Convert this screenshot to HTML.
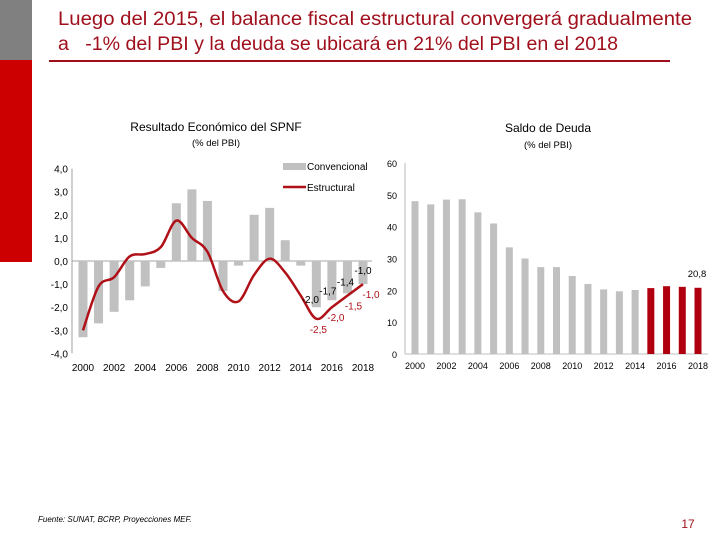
<!DOCTYPE html>
<html><head><meta charset="utf-8"><style>
body{margin:0;width:720px;height:540px;background:#fff;position:relative;overflow:hidden;font-family:"Liberation Sans",sans-serif}
.abs{position:absolute}
svg text{font-family:"Liberation Sans",sans-serif}
</style></head><body>
<div class="abs" style="left:0;top:0;width:32px;height:60px;background:#808080"></div>
<div class="abs" style="left:0;top:60px;width:32px;height:202px;background:#cc0000"></div>
<div class="abs" style="left:49px;top:60px;width:621px;height:2px;background:#a0101c"></div>
<svg class="abs" style="left:0;top:0" width="720" height="540" id="svg">
<g fill="#a0101c" font-size="19">
<text x="58" y="25" textLength="634" lengthAdjust="spacingAndGlyphs">Luego del 2015, el balance fiscal estructural convergerá gradualmente</text>
<text x="58" y="50" textLength="560" lengthAdjust="spacingAndGlyphs">a&#160;&#160; -1% del PBI y la deuda se ubicará en 21% del PBI en el 2018</text>
</g>
<text x="216" y="131" text-anchor="middle" font-size="12">Resultado Económico del SPNF</text>
<text x="216" y="146" text-anchor="middle" font-size="9.5">(% del PBI)</text>
<text x="548" y="132" text-anchor="middle" font-size="12">Saldo de Deuda</text>
<text x="548" y="148" text-anchor="middle" font-size="9.5">(% del PBI)</text>
<text x="38" y="522" font-size="8" font-style="italic">Fuente: SUNAT, BCRP, Proyecciones MEF.</text>
<text x="688" y="528" text-anchor="middle" font-size="12" fill="#a0101c">17</text>
<g id="left"></g><g id="right"></g>
</svg>
<script>
const years=[2000,2001,2002,2003,2004,2005,2006,2007,2008,2009,2010,2011,2012,2013,2014,2015,2016,2017,2018];
const conventional=[-3.3,-2.7,-2.2,-1.7,-1.1,-0.3,2.5,3.1,2.6,-1.3,-0.2,2.0,2.3,0.9,-0.2,-2.0,-1.7,-1.4,-1.0];
const structural=[-3.0,-1.1,-0.7,0.2,0.3,0.6,1.75,1.0,0.4,-1.3,-1.75,-0.6,0.1,-0.5,-1.5,-2.5,-2.0,-1.5,-1.0];
const leftTicks=[4,3,2,1,0,-1,-2,-3,-4];
const convLabels=["-2,0","-1,7","-1,4","-1,0"];
const strLabels=["-2,5","-2,0","-1,5","-1,0"];
const debt=[48,47,48.5,48.6,44.5,41,33.5,30,27.3,27.3,24.5,22,20.3,19.7,20.1,20.7,21.3,21.1,20.8];
const rightTicks=[0,10,20,30,40,50,60];
const yearLabels=[2000,2002,2004,2006,2008,2010,2012,2014,2016,2018];
const NS="http://www.w3.org/2000/svg";
function mk(p,t,a){const e=document.createElementNS(NS,t);for(const k in a)e.setAttribute(k,a[k]);p.appendChild(e);return e;}
const fmt=v=>v.toFixed(1).replace('.',',');
// left chart
const L=document.getElementById('left');
const lx=y=>83+(y-2000)*(280/18), ly=v=>261-v*23.1;
leftTicks.forEach(t=>{const e=mk(L,'text',{x:68,y:ly(t)+4,'text-anchor':'end','font-size':10});e.textContent=fmt(t);

});
mk(L,'line',{x1:72,y1:ly(4),x2:72,y2:ly(-4),stroke:'#888','stroke-width':0.8});
mk(L,'line',{x1:72,y1:ly(0),x2:372,y2:ly(0),stroke:'#888','stroke-width':0.8});
conventional.forEach((v,i)=>{const r=mk(L,'rect',{x:lx(years[i])-4.5,y:Math.min(ly(v),ly(0)),width:9,height:Math.abs(ly(v)-ly(0)),fill:'#c0c0c0'});

});
const pts=structural.map((v,i)=>[lx(years[i]),ly(v)]);
let d='M'+pts[0];
for(let i=0;i<pts.length-1;i++){const p0=pts[i-1]||pts[i],p1=pts[i],p2=pts[i+1],p3=pts[i+2]||p2;
d+=` C${p1[0]+(p2[0]-p0[0])/6},${p1[1]+(p2[1]-p0[1])/6} ${p2[0]-(p3[0]-p1[0])/6},${p2[1]-(p3[1]-p1[1])/6} ${p2[0]},${p2[1]}`;}
const ln=mk(L,'path',{d:d,fill:'none',stroke:'#b01018','stroke-width':2.5});


yearLabels.forEach(y=>{const e=mk(L,'text',{x:lx(y),y:371,'text-anchor':'middle','font-size':10});e.textContent=y;

});
[15,16,17,18].forEach((k,j)=>{const i=k;const e=mk(L,'text',{x:lx(years[i])-6+j*2,y:ly(conventional[i])-4-j*2,'text-anchor':'middle','font-size':10});e.textContent=convLabels[j];


const s=mk(L,'text',{x:lx(years[i])+2+j*2,y:ly(structural[i])+14,'text-anchor':'middle','font-size':10,fill:'#b01018'});s.textContent=strLabels[j];

});
const lg1=mk(L,'rect',{x:283,y:163,width:23,height:7,fill:'#c0c0c0'});


const lt1=mk(L,'text',{x:307,y:170,'font-size':10});lt1.textContent='Convencional';


const lg2=mk(L,'line',{x1:283,y1:187,x2:306,y2:187,stroke:'#b01018','stroke-width':2.5});


const lt2=mk(L,'text',{x:307,y:191,'font-size':10});lt2.textContent='Estructural';


// right chart
const R=document.getElementById('right');
const rx=y=>415+(y-2000)*(283/18), ry=v=>354-v*(191/60);
rightTicks.forEach(t=>{const e=mk(R,'text',{x:397,y:ry(t)+4,'text-anchor':'end','font-size':9});e.textContent=t;

});
mk(R,'line',{x1:405,y1:ry(60),x2:405,y2:ry(0),stroke:'#aaa','stroke-width':0.8});
mk(R,'line',{x1:405,y1:ry(0),x2:708,y2:ry(0),stroke:'#aaa','stroke-width':0.8});
debt.forEach((v,i)=>{const r=mk(R,'rect',{x:rx(years[i])-3.5,y:ry(v),width:7,height:ry(0)-ry(v),fill:years[i]>=2015?'#b00010':'#c0c0c0'});

});
yearLabels.forEach(y=>{const e=mk(R,'text',{x:rx(y),y:369,'text-anchor':'middle','font-size':9});e.textContent=y;

});
const dl=mk(R,'text',{x:rx(2018)-1,y:ry(debt[18])-11,'text-anchor':'middle','font-size':9.5});dl.textContent=fmt(debt[18]);


</script>
</body></html>
